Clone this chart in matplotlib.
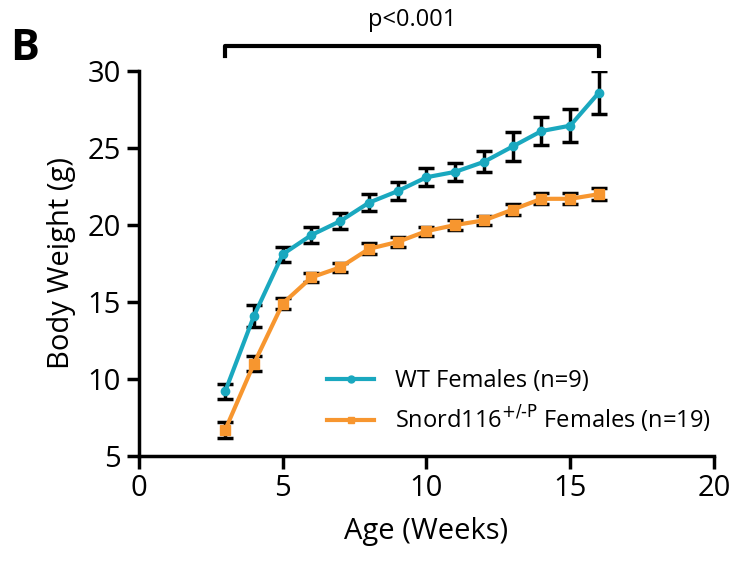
import numpy as np
import matplotlib
matplotlib.use('Agg')
import matplotlib.pyplot as plt

plt.rcParams['font.family'] = ['Open Sans', 'DejaVu Sans']

# data
weeks = [3, 4, 5, 6, 7, 8, 9, 10, 11, 12, 13, 14, 15, 16]
wt_mean = [9.2, 14.1, 18.1, 19.35, 20.25, 21.45, 22.2, 23.1, 23.45, 24.1, 25.1, 26.1, 26.45, 28.6]
wt_err = [0.5, 0.7, 0.5, 0.55, 0.5, 0.55, 0.6, 0.6, 0.57, 0.68, 0.97, 0.93, 1.05, 1.4]
snord_mean = [6.7, 11.0, 14.9, 16.6, 17.25, 18.45, 18.9, 19.6, 20.0, 20.3, 21.0, 21.7, 21.7, 22.0]
snord_err = [0.5, 0.5, 0.35, 0.3, 0.3, 0.35, 0.3, 0.3, 0.3, 0.3, 0.35, 0.35, 0.35, 0.4]
labels = ['WT Females (n=9)', r'Snord116$^{+/\text{-}\mathrm{P}}$ Females (n=19)']
teal = '#1aa8bf'
orange = '#f7962f'

fig = plt.figure(figsize=(7.46, 5.67), dpi=100)
ax = fig.add_axes([0.1863, 0.1958, 0.7708, 0.679])

for m, e, c, mk, ms in [(wt_mean, wt_err, teal, 'o', 6), (snord_mean, snord_err, orange, 's', 7)]:
    ax.errorbar(weeks, m, yerr=e, fmt='none', ecolor='black', elinewidth=2.5,
                capsize=6, capthick=2.5, zorder=2)
    ax.plot(weeks, m, color=c, lw=3, marker=mk, ms=ms, zorder=3)

# legend handles
h1, = ax.plot([], [], color=teal, lw=3, marker='o', ms=5)
h2, = ax.plot([], [], color=orange, lw=3, marker='s', ms=5)
ax.legend([h1, h2], labels,
          loc='lower left', bbox_to_anchor=(0.29, 0.0), frameon=False,
          fontsize=17, handlelength=2.0, labelspacing=0.45, handletextpad=0.9)

ax.set_xlim(0, 20)
ax.set_ylim(5, 30)
ax.set_xticks([0, 5, 10, 15, 20])
ax.set_yticks([5, 10, 15, 20, 25, 30])
ax.spines['top'].set_visible(False)
ax.spines['right'].set_visible(False)
for s in ['left', 'bottom']:
    ax.spines[s].set_linewidth(2.5)
ax.tick_params(width=2.5, length=9, labelsize=21, pad=4)
ax.set_xlabel('Age (Weeks)', fontsize=21, labelpad=10)
ax.set_ylabel('Body Weight (g)', fontsize=21, labelpad=8)

# significance bracket
ax.plot([3, 3, 16, 16], [31.0, 31.6, 31.6, 31.0], color='black', lw=3, clip_on=False)
ax.text(9.5, 32.5, 'p<0.001', ha='center', va='bottom', fontsize=17)

fig.text(0.014, 0.915, 'B', fontsize=31, fontweight='bold', ha='left', va='center')

fig.savefig('out.png', dpi=100)
